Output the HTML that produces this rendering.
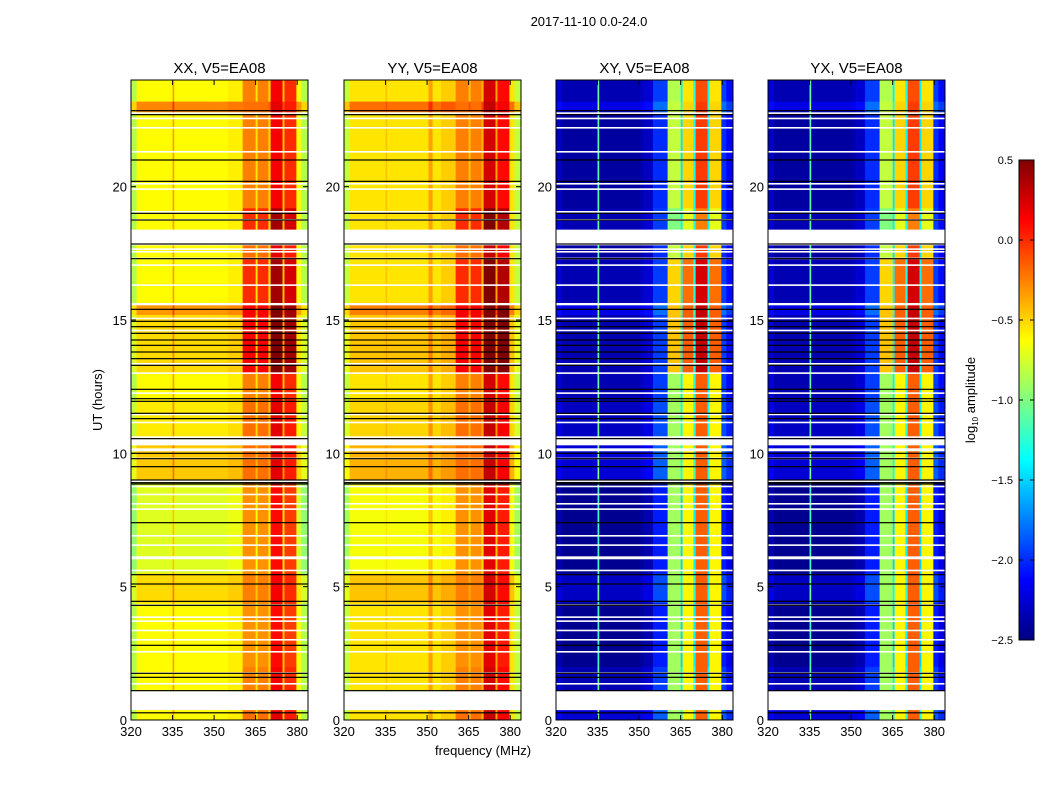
<!DOCTYPE html>
<html><head><meta charset="utf-8"><style>
body{margin:0;background:#fff;}
svg text{font-family:"Liberation Sans",sans-serif;fill:#000;}
</style></head><body>
<svg id="fig" width="1050" height="800" viewBox="0 0 1050 800" xmlns="http://www.w3.org/2000/svg">
<defs>
<linearGradient id="jet" x1="0" y1="1" x2="0" y2="0">
<stop offset="0" stop-color="#000080"/><stop offset="0.125" stop-color="#0000ff"/><stop offset="0.375" stop-color="#00ffff"/><stop offset="0.625" stop-color="#ffff00"/><stop offset="0.875" stop-color="#ff0000"/><stop offset="1" stop-color="#800000"/>
</linearGradient>
</defs>
<text x="589" y="26" font-size="13" text-anchor="middle">2017-11-10 0.0-24.0</text>
<text x="102" y="400" font-size="13" text-anchor="middle" transform="rotate(-90 102 400)">UT (hours)</text>
<text x="483" y="755" font-size="13" text-anchor="middle">frequency (MHz)</text>
<g id="panels"></g>
<g id="cbar">
<rect x="1019" y="160" width="15" height="480" fill="url(#jet)" stroke="#000" stroke-width="1"/>
</g>
<text x="975" y="400" font-size="13" text-anchor="middle" transform="rotate(-90 975 400)">log<tspan font-size="8" dy="3">10</tspan><tspan dy="-3"> amplitude</tspan></text>
</svg>
<script>
// ---- data ----
const panelTitles = ["XX, V5=EA08","YY, V5=EA08","XY, V5=EA08","YX, V5=EA08"];
const freqEdges = [320,322,335,335.6,350.5,352,355,360.3,365,365.7,369.6,370.4,374.7,375.4,379.7,381.5,384];
const bandMask  = [0,0,0,0,0,0,0,1,0,1,0,1,0,1,0,0];
const colXX = [-0.85,-0.62,-0.35,-0.62,-0.62,-0.62,-0.58,-0.3,-0.55,-0.3,-0.5,0.1,-0.45,-0.05,-0.65,-0.85];
const colYY = [-0.8,-0.55,-0.45,-0.55,-0.35,-0.55,-0.48,-0.3,-0.45,-0.3,-0.4,0.2,-0.35,0.05,-0.55,-0.8];
const colXY = [-2.35,-2.45,-1.2,-2.45,-2.4,-2.35,-2.05,-0.9,-1.5,-0.6,-1.4,-0.15,-1.5,-0.6,-2.05,-2.2];
const colYX = [-2.35,-2.45,-1.2,-2.45,-2.4,-2.35,-2.05,-0.9,-1.5,-0.6,-1.4,-0.15,-1.5,-0.6,-2.05,-2.2];
const segEdges = [0,0.37,1.1,2.0,4.4,5.5,9.0,10.3,10.55,12.0,13.0,15.2,15.55,15.65,17.3,17.8,18.4,19.2,22.8,23.2,24];
const segFlag  = [0,1,0,0,0,0,0,1,0,0,0,0,1,0,0,1,0,0,0,0];
const bgPar    = [0,0,0,0,0.1,-0.1,0.15,0,0.05,0,0.1,0.3,0,0,0,0,0,0,0.35,0];
const bandPar  = [0.1,0,0.05,0,0.05,0,0.1,0,0.1,0.05,0.45,0.45,0,0.3,0.1,0,0.3,0.05,0.1,0.05];
const bgCross  = [0.2,0,0.1,0,0.15,0,0.2,0,0.15,0.1,0.1,0.25,0,0.1,0.05,0,0.1,0.05,0.25,0.1];
const bandCross= [0,0,0,0,0,0,0,0,0,0,0.45,0.45,0,0.4,0.1,0,-0.1,0.1,0.1,0.05];
const whiteLines = [1.35,1.75,2.55,3.0,3.35,3.7,3.85,4.3,5.6,6.05,6.1,6.55,6.9,7.9,8.1,8.45,8.75,8.95,9.8,10.1,10.15,10.6,11.15,11.45,12.25,13.0,13.35,14.6,15.05,16.3,17.05,17.3,17.55,17.65,18.2,18.75,19.05,19.9,20.1,21.3,22.2,22.55,22.75];
const blackLines = [0.27,1.1,1.6,1.75,2.8,4.3,4.45,5.1,5.45,7.4,8.85,8.9,9.0,9.5,9.8,10.0,10.55,11.3,11.5,11.95,12.05,12.4,13.3,13.55,13.8,14.05,14.25,14.5,14.75,14.95,15.4,17.3,17.85,18.75,19.0,20.2,21.0,22.7,22.85];
const xTicks = [320,335,350,365,380];
const yTicks = [0,5,10,15,20];
const cbTicks = [0.5,0.0,-0.5,-1.0,-1.5,-2.0,-2.5];
// ---- layout ----
const panelX = [131,344,556,768], PW=177, PT=80, PB=720;
const fMin=320, fMax=383.9, vmin=-2.5, vmax=0.5;
const NS="http://www.w3.org/2000/svg";
function jet(v){
  let t=Math.max(0,Math.min(1,(v-vmin)/(vmax-vmin)));
  const c=x=>Math.round(255*Math.max(0,Math.min(1,x)));
  return `rgb(${c(1.5-Math.abs(4*t-3))},${c(1.5-Math.abs(4*t-2))},${c(1.5-Math.abs(4*t-1))})`;
}
function mk(tag,attrs,parent){const e=document.createElementNS(NS,tag);for(const k in attrs)e.setAttribute(k,attrs[k]);parent.appendChild(e);return e;}
const root=document.getElementById('panels');
const yOf=h=>PB-(h/24)*(PB-PT);
panelTitles.forEach((title,p)=>{
  const x0=panelX[p];
  const xOf=f=>x0+(Math.min(f,fMax)-fMin)/(fMax-fMin)*PW;
  const cols=[colXX,colYY,colXY,colYX][p];
  const cross=p>=2;
  const g=mk('g',{},root);
  
  
  for(let s=0;s<segEdges.length-1;s++){
    const y1=yOf(segEdges[s+1]), y0=yOf(segEdges[s]);
    if(segFlag[s]) continue;
    for(let c=0;c<cols.length;c++){
      const off = bandMask[c] ? (cross?bandCross[s]:bandPar[s]) : (cross?bgCross[s]:bgPar[s]);
      const r=mk('rect',{x:xOf(freqEdges[c]).toFixed(2),y:y1.toFixed(2),width:(xOf(freqEdges[c+1])-xOf(freqEdges[c])+0.3).toFixed(2),height:(y0-y1+0.3).toFixed(2),fill:jet(cols[c]+off)},g);
      
      
    }
  }
  whiteLines.forEach(h=>{
    const r=mk('rect',{x:x0,y:(yOf(h)-1).toFixed(2),width:PW,height:1.6,fill:'#fff'},g);
    
    
  });
  blackLines.forEach(h=>{
    const r=mk('rect',{x:x0,y:(yOf(h)-0.6).toFixed(2),width:PW,height:1.2,fill:'#000'},g);
    
    
  });
  const fr=mk('rect',{x:x0,y:PT,width:PW,height:PB-PT,fill:'none',stroke:'#000','stroke-width':1},g);
  
  
  xTicks.forEach(f=>{
    const x=xOf(f);
    mk('line',{x1:x,x2:x,y1:PB,y2:PB-5,stroke:'#000'},g);
    mk('line',{x1:x,x2:x,y1:PT,y2:PT+5,stroke:'#000'},g);
    const t=mk('text',{x:x,y:PB+16,'font-size':13,'text-anchor':'middle'},g);
    t.textContent=f;
    
    
  });
  yTicks.forEach(h=>{
    const y=yOf(h);
    mk('line',{x1:x0,x2:x0+5,y1:y,y2:y,stroke:'#000'},g);
    mk('line',{x1:x0+PW,x2:x0+PW-5,y1:y,y2:y,stroke:'#000'},g);
    const t=mk('text',{x:x0-4,y:y+5,'font-size':13,'text-anchor':'end'},g);
    t.textContent=h;
    
    
  });
  const tt=mk('text',{x:x0+PW/2,y:PT-7,'font-size':15,'text-anchor':'middle'},g);
  tt.textContent=title;
  
  
});
const cb=document.getElementById('cbar');
cbTicks.forEach(v=>{
  const y=160+(vmax-v)/(vmax-vmin)*480;
  mk('line',{x1:1019,x2:1023,y1:y,y2:y,stroke:'#000'},cb);
  mk('line',{x1:1034,x2:1030,y1:y,y2:y,stroke:'#000'},cb);
  const t=mk('text',{x:1013,y:y+4,'font-size':11,'text-anchor':'end'},cb);
  t.textContent=(v<0?'\u2212':'')+Math.abs(v).toFixed(1);
  
  
});
</script>
</body></html>
